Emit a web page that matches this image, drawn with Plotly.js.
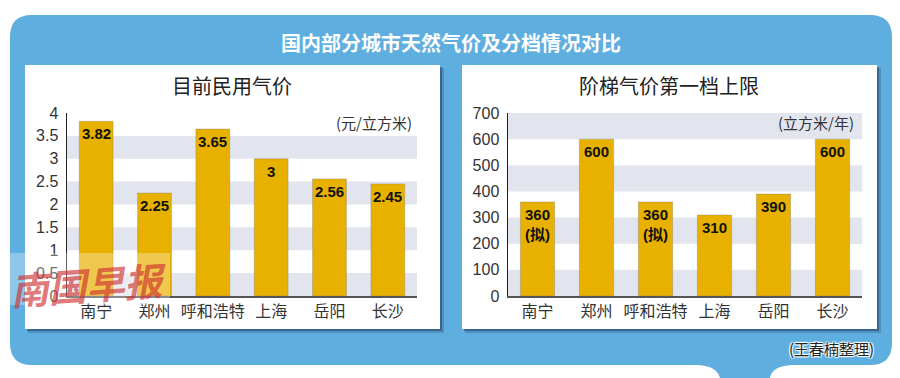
<!DOCTYPE html>
<html><head><meta charset="utf-8">
<script src="https://cdn.plot.ly/plotly-3.0.1.min.js"></script>
<style>html,body{margin:0;padding:0;background:#fff;}#chart{width:900px;height:378px;}</style>
</head><body><div id="chart"></div>
<script>
// ---- data ----
const cities = ['南宁','郑州','呼和浩特','上海','岳阳','长沙'];
const priceValues = [3.82, 2.25, 3.65, 3, 2.56, 2.45];
const priceLabels = ['3.82','2.25','3.65','3','2.56','2.45'];
const limitValues = [360, 600, 360, 310, 390, 600];
const limitLabels = ['360<br>(拟)','600','360<br>(拟)','310','390','600'];
const priceBands = [[0,0.5],[1,1.5],[2,2.5],[3,3.5]];
const limitBands = [[0,100],[200,300],[400,500],[600,700]];
const mainTitle = '国内部分城市天然气价及分档情况对比';
const leftTitle = '目前民用气价';
const rightTitle = '阶梯气价第一档上限';
const leftUnit = '(元/立方米)';
const rightUnit = '(立方米/年)';
const footer = '(王春楠整理)';
const watermark = '南国早报';

// ---- helpers ----
const W = 900, H = 378;
const px = x => x / W;
const py = y => 1 - y / H;
const BAR = '#e8b100';
const BLUE = '#5eaee0';
const FONT = 'Liberation Sans, Noto Sans CJK SC, sans-serif';
const CJK = 'Noto Sans CJK SC, sans-serif';

function framePath() {
  const r = 22;
  const pts = (x, y) => px(x).toFixed(5) + ',' + py(y).toFixed(5);
  return 'M ' + pts(10 + r, 15) +
    ' L ' + pts(892 - r, 15) + ' Q ' + pts(892, 15) + ' ' + pts(892, 15 + r) +
    ' L ' + pts(892, 365 - r) + ' Q ' + pts(892, 365) + ' ' + pts(892 - r, 365) +
    ' L ' + pts(792, 365) + ' Q ' + pts(772, 366) + ' ' + pts(770, 378) +
    ' L ' + pts(720, 378) + ' Q ' + pts(717, 366) + ' ' + pts(698, 365) +
    ' L ' + pts(10 + r, 365) + ' Q ' + pts(10, 365) + ' ' + pts(10, 365 - r) +
    ' L ' + pts(10, 15 + r) + ' Q ' + pts(10, 15) + ' ' + pts(10 + r, 15) + ' Z';
}

const shapes = [];
shapes.push({type:'path', xref:'paper', yref:'paper', path: framePath(), fillcolor: BLUE, line:{width:0}, layer:'below'});
// panels with shadows
[[25,440],[462,877]].forEach(([a,b]) => {
  shapes.push({type:'rect', xref:'paper', yref:'paper', x0:px(a+3), x1:px(b+4), y0:py(65+3), y1:py(329+4), fillcolor:'rgba(30,60,90,0.25)', line:{width:0}, layer:'below'});
  shapes.push({type:'rect', xref:'paper', yref:'paper', x0:px(a+2), x1:px(b+2), y0:py(65+2), y1:py(329+2), fillcolor:'rgba(30,50,80,0.45)', line:{width:0}, layer:'below'});
  shapes.push({type:'rect', xref:'paper', yref:'paper', x0:px(a), x1:px(b), y0:py(65), y1:py(329), fillcolor:'#ffffff', line:{width:0}, layer:'below'});
});
priceBands.forEach(([a,b]) => shapes.push({type:'rect', xref:'x domain', yref:'y', x0:0, x1:1, y0:a, y1:b, fillcolor:'#e3e5ee', line:{width:0}, layer:'below'}));
limitBands.forEach(([a,b]) => shapes.push({type:'rect', xref:'x2 domain', yref:'y2', x0:0, x1:1, y0:a, y1:b, fillcolor:'#e3e5ee', line:{width:0}, layer:'below'}));
// watermark light overlay
shapes.push({type:'rect', xref:'paper', yref:'paper', x0:px(0), x1:px(170), y0:py(253), y1:py(305), fillcolor:'rgba(255,255,255,0.3)', line:{width:0}, layer:'above'});

const traces = [
  {type:'bar', x: cities, y: priceValues, xaxis:'x', yaxis:'y', marker:{color:BAR, line:{color:'rgba(120,120,120,0.35)', width:1}}, hoverinfo:'skip'},
  {type:'bar', x: cities, y: limitValues, xaxis:'x2', yaxis:'y2', marker:{color:BAR, line:{color:'rgba(120,120,120,0.35)', width:1}}, hoverinfo:'skip'}
];

const annotations = [];
priceValues.forEach((v,i) => annotations.push({xref:'x', yref:'y', x: cities[i], y: v, text: '<b>'+priceLabels[i]+'</b>', showarrow:false, yanchor:'top', yshift:-2, font:{family:FONT, size:15, color:'#111'}}));
limitValues.forEach((v,i) => annotations.push({xref:'x2', yref:'y2', x: cities[i], y: v, text: '<b>'+limitLabels[i]+'</b>', showarrow:false, yanchor:'top', yshift:-2, font:{family:FONT, size:15, color:'#111'}}));
annotations.push({xref:'paper', yref:'paper', x:px(451), y:py(43), text:'<b>'+mainTitle+'</b>', showarrow:false, font:{family:CJK, size:20, color:'#ffffff'}, xanchor:'center', yanchor:'middle'});
annotations.push({xref:'paper', yref:'paper', x:px(232), y:py(86), text:leftTitle, showarrow:false, font:{family:CJK, size:20, color:'#222'}, xanchor:'center', yanchor:'middle'});
annotations.push({xref:'paper', yref:'paper', x:px(669), y:py(86), text:rightTitle, showarrow:false, font:{family:CJK, size:20, color:'#222'}, xanchor:'center', yanchor:'middle'});
annotations.push({xref:'paper', yref:'paper', x:px(414), y:py(123), text:leftUnit, showarrow:false, font:{family:CJK, size:15, color:'#333'}, xanchor:'right', yanchor:'middle'});
annotations.push({xref:'paper', yref:'paper', x:px(856), y:py(123), text:rightUnit, showarrow:false, font:{family:CJK, size:15, color:'#333'}, xanchor:'right', yanchor:'middle'});
annotations.push({xref:'paper', yref:'paper', x:px(876), y:py(348), text:footer, showarrow:false, font:{family:CJK, size:15, color:'#222', shadow:'1px 1px 1px #fff, -1px -1px 1px #fff, 1px -1px 1px #fff, -1px 1px 1px #fff'}, xanchor:'right', yanchor:'middle'});
annotations.push({xref:'paper', yref:'paper', x:px(88), y:py(283), text:'<i><b>'+watermark+'</b></i>', showarrow:false, textangle:-4, font:{family:CJK, size:38, color:'rgba(205,45,45,0.65)'}, xanchor:'center', yanchor:'middle'});

const xBase = {type:'category', range:[-0.5,5.5], showline:true, linecolor:'#555', linewidth:1.5, ticks:'', showgrid:false, zeroline:false, tickfont:{family:CJK, size:16, color:'#333'}, fixedrange:true};
const yBase = {showline:true, linecolor:'#222', linewidth:1.5, ticks:'', showgrid:false, zeroline:false, tickfont:{family:FONT, size:16, color:'#333'}, fixedrange:true, ticklabelstandoff:4};

const layout = {
  width: W, height: H,
  margin:{l:0, r:0, t:0, b:0},
  paper_bgcolor:'#ffffff', plot_bgcolor:'rgba(0,0,0,0)',
  showlegend:false, bargap:0.42,
  xaxis: Object.assign({}, xBase, {domain:[px(67), px(417)], anchor:'y'}),
  yaxis: Object.assign({}, yBase, {domain:[py(296), py(113)], range:[0,4], dtick:0.5, tick0:0, anchor:'x'}),
  xaxis2: Object.assign({}, xBase, {domain:[px(508), px(862)], anchor:'y2'}),
  yaxis2: Object.assign({}, yBase, {domain:[py(296), py(113)], range:[0,700], dtick:100, tick0:0, anchor:'x2'}),
  shapes: shapes,
  annotations: annotations
};

Plotly.newPlot('chart', traces, layout, {displayModeBar:false, staticPlot:true});
</script>
</body></html>
